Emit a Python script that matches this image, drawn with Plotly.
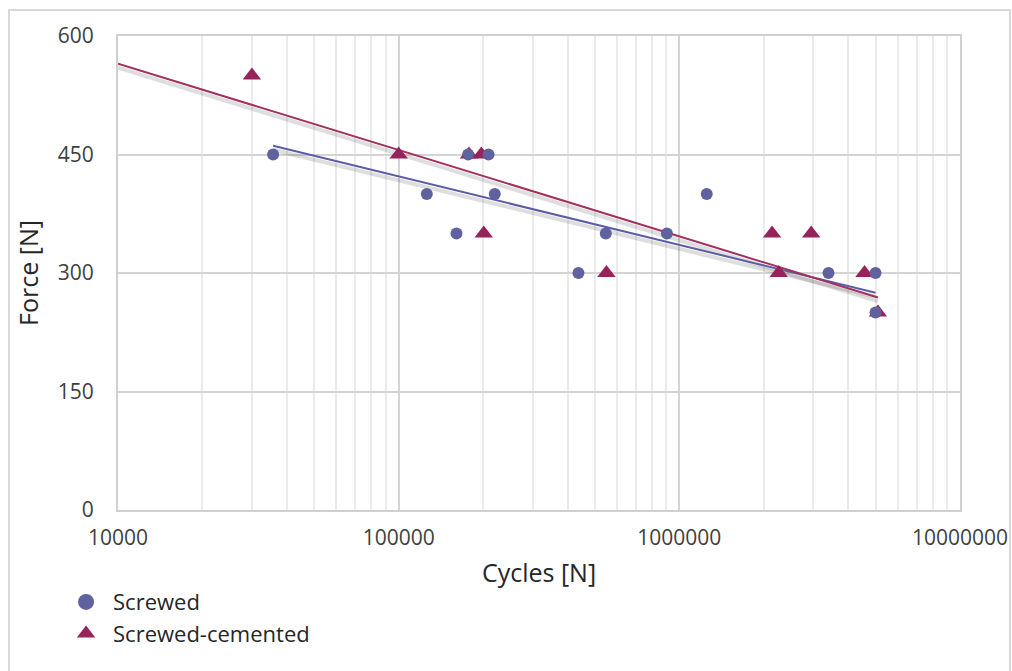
import plotly.graph_objects as go

# ---- data ----
screwed_cycles = [35700, 126000, 160700, 176800, 209000, 220000, 437000, 547000,
                  903000, 1252000, 3400000, 5000000, 5000000]
screwed_force = [450, 400, 350, 450, 450, 400, 300, 350, 350, 400, 300, 300, 250]

cemented_cycles = [30000, 100000, 178000, 197000, 201000, 550000, 2140000,
                   2260000, 2950000, 4570000, 5100000]
cemented_force = [550, 450, 450, 450, 350, 300, 350, 300, 350, 300, 250]

# logarithmic trendlines (endpoints of the fitted lines)
screwed_trend_x = [35700, 5000000]
screwed_trend_y = [461, 275]
cemented_trend_x = [10000, 5100000]
cemented_trend_y = [565, 269]

x_tickvals = [10000, 100000, 1000000, 10000000]
x_ticktext = ["10000", "100000", "1000000", "10000000"]
y_tickvals = [0, 150, 300, 450, 600]

# ---- style ----
C_SCR = "#5f629e"
C_CEM = "#98225a"
FONT = "Open Sans"
TXT = "#404040"

fig = go.Figure()

# shadows of trendlines
for tx, ty in [(screwed_trend_x, screwed_trend_y), (cemented_trend_x, cemented_trend_y)]:
    fig.add_trace(go.Scatter(x=tx, y=[v - 5 for v in ty], mode="lines",
                             line=dict(color="rgba(0,0,0,0.13)", width=4),
                             showlegend=False, hoverinfo="skip"))

fig.add_trace(go.Scatter(x=screwed_trend_x, y=screwed_trend_y, mode="lines",
                         line=dict(color="#5b5ea6", width=2), showlegend=False))
fig.add_trace(go.Scatter(x=cemented_trend_x, y=cemented_trend_y, mode="lines",
                         line=dict(color="#a3305f", width=2), showlegend=False))

fig.add_trace(go.Scatter(x=cemented_cycles, y=cemented_force, mode="markers",
                         name="Screwed-cemented", showlegend=False,
                         marker=dict(symbol="triangle-up", size=16, color=C_CEM)))
fig.add_trace(go.Scatter(x=screwed_cycles, y=screwed_force, mode="markers",
                         name="Screwed", showlegend=False,
                         marker=dict(symbol="circle", size=12, color=C_SCR)))

# legend entries (larger symbols, as in the reference legend)
fig.add_trace(go.Scatter(x=[None], y=[None], mode="markers", name="Screwed-cemented",
                         marker=dict(symbol="triangle-up", size=19, color=C_CEM)))
fig.add_trace(go.Scatter(x=[None], y=[None], mode="markers", name="Screwed",
                         marker=dict(symbol="circle", size=18, color=C_SCR)))

fig.update_layout(
    width=1012, height=671,
    margin=dict(l=118, r=52, t=36, b=161, autoexpand=False),
    paper_bgcolor="white", plot_bgcolor="white",
    font=dict(family=FONT, size=21, color=TXT),
    legend=dict(x=-0.07, y=-0.15, xanchor="left", yanchor="top",
                traceorder="reversed", font=dict(size=22, color="#262626"),
                itemsizing="trace", itemwidth=44, tracegroupgap=0, bgcolor="rgba(0,0,0,0)"),
    xaxis=dict(type="log", range=[4, 7], tickvals=x_tickvals, ticktext=x_ticktext,
               automargin=False,
               showgrid=True, gridcolor="#d4d4d4", gridwidth=2,
               minor=dict(dtick="D1", showgrid=True, gridcolor="#ebebeb", gridwidth=1.5, ticks=""),
               showline=True, linecolor="#d0d0d0", linewidth=2, mirror=True,
               ticks="", ticklabelstandoff=8, zeroline=False,
               title=dict(text="Cycles [N]", font=dict(size=25, color="#262626"), standoff=14)),
    yaxis=dict(range=[0, 600], tickvals=y_tickvals, automargin=False,
               showgrid=True, gridcolor="#d4d4d4", gridwidth=2,
               showline=True, linecolor="#d0d0d0", linewidth=2, mirror=True,
               ticks="", ticklabelstandoff=18, zeroline=False,
               title=dict(text="Force [N]", font=dict(size=25, color="#262626"), standoff=12)),
    shapes=[dict(type="rect", xref="paper", yref="paper",
                 x0=(9 - 118) / 842, x1=(1010 - 118) / 842, y0=-0.5, y1=1 + (36 - 10) / 474,
                 line=dict(color="#d9d9d9", width=2), fillcolor="rgba(0,0,0,0)", layer="below")],
)

fig.write_html("out.html", config={"displayModeBar": False},
               post_script="document.body.style.margin='0';document.body.style.overflow='hidden';")
